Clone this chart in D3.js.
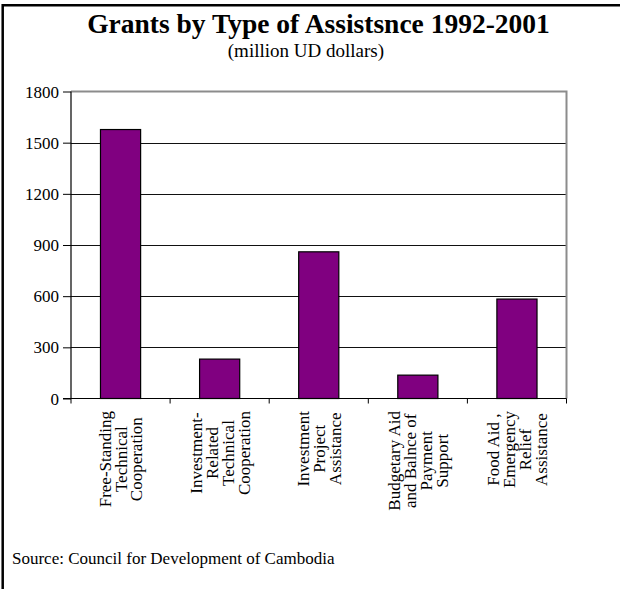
<!DOCTYPE html>
<html>
<head>
<meta charset="utf-8">
<script src="https://cdn.jsdelivr.net/npm/d3@7/dist/d3.min.js"></script>
<style>
  html, body { margin: 0; padding: 0; background: #fff; }
  svg { display: block; }
  text { font-family: "Liberation Serif", "Times New Roman", serif; fill: #000; }
</style>
</head>
<body>
<svg id="chart" width="620" height="589"></svg>
<script>
// ---- data ----
const categories = [
  "Free-Standing Technical Cooperation",
  "Investment-Related Technical Cooperation",
  "Investment Project Assistance",
  "Budgetary Aid and Balnce of Payment Support",
  "Food Aid , Emergency Relief Assistance"
];
const categoryLines = [
  ["Free-Standing", "Technical", "Cooperation"],
  ["Investment-", "Related", "Technical", "Cooperation"],
  ["Investment", "Project", "Assistance"],
  ["Budgetary Aid", "and Balnce of", "Payment", "Support"],
  ["Food Aid ,", "Emergency", "Relief", "Assistance"]
];
const grants = [1577, 231, 860, 137, 583];
const yTicks = [0, 300, 600, 900, 1200, 1500, 1800];
const titleText = "Grants by Type of Assistsnce 1992-2001";
const subtitleText = "(million UD dollars)";
const sourceText = "Source: Council for Development of Cambodia";

// ---- layout ----
const svg = d3.select("#chart");
const plot = { left: 71, right: 566.5, top: 91.5, bottom: 398.5 };

// frame border (top and left)
svg.append("path")
  .attr("d", "M2.7,589 L2.7,5.2 L620,5.2")
  .attr("fill", "none").attr("stroke", "#000").attr("stroke-width", 2.5);

const x = d3.scaleBand().domain(categories).range([plot.left, plot.right]).padding(0);
const y = d3.scaleLinear().domain([0, 1800]).range([plot.bottom, plot.top]);

// gridlines
svg.append("g").selectAll("line").data(yTicks.filter(d => d > 0 && d < 1800)).join("line")
  .attr("x1", plot.left).attr("x2", plot.right)
  .attr("y1", d => Math.round(y(d)) + 0.5).attr("y2", d => Math.round(y(d)) + 0.5)
  .attr("stroke", "#111").attr("stroke-width", 1);

// plot border top/right (gray)
svg.append("path")
  .attr("d", `M${plot.left},${plot.top} L${plot.right},${plot.top} L${plot.right},${plot.bottom}`)
  .attr("fill", "none").attr("stroke", "#8c8c8c").attr("stroke-width", 2);

// bars
const barW = x.bandwidth() * 0.405;
svg.append("g").selectAll("rect").data(categories).join("rect")
  .attr("x", d => x(d) + (x.bandwidth() - barW) / 2)
  .attr("width", barW)
  .attr("y", (d, i) => y(grants[i]))
  .attr("height", (d, i) => y(0) - y(grants[i]))
  .attr("fill", "#800080")
  .attr("stroke", "#000").attr("stroke-width", 1.2);

// y axis
const yAxis = d3.axisLeft(y).tickValues(yTicks).tickSize(8).tickPadding(4).tickFormat(d3.format("d"));
const gy = svg.append("g").attr("transform", `translate(${plot.left},0)`).call(yAxis);
gy.select(".domain").attr("stroke", "#000").attr("stroke-width", 1.2).attr("d", `M-8,${plot.bottom}H0V${plot.top}`);
gy.selectAll(".tick line").attr("stroke", "#000");
gy.selectAll(".tick text").attr("font-size", 17).attr("font-family", "Liberation Serif").attr("dy", "0.33em");

// x axis line + boundary ticks
const boundaries = categories.map(d => x(d)).concat([plot.right]);
svg.append("line").attr("x1", plot.left - 8).attr("x2", plot.right)
  .attr("y1", plot.bottom).attr("y2", plot.bottom).attr("stroke", "#000").attr("stroke-width", 1.2);
svg.append("g").selectAll("line").data(boundaries).join("line")
  .attr("x1", d => d).attr("x2", d => d)
  .attr("y1", plot.bottom).attr("y2", plot.bottom + 5)
  .attr("stroke", "#000").attr("stroke-width", 1);

// category labels (rotated, centered lines, block top at fixed y)
const lineH = 16;
const labelTop = 411;
categories.forEach((c, i) => {
  const lines = categoryLines[i];
  const g = svg.append("g")
    .attr("transform", `translate(${x(c) + x.bandwidth() / 2},${labelTop}) rotate(-90)`);
  const texts = g.selectAll("text").data(lines).join("text")
    .attr("font-size", 17)
    .attr("text-anchor", "middle")
    .attr("dy", "0.35em")
    .attr("y", (d, j) => (j - (lines.length - 1) / 2) * lineH)
    .text(d => d);
  let maxLen = 0;
  texts.each(function () { maxLen = Math.max(maxLen, this.getComputedTextLength()); });
  texts.attr("x", -maxLen / 2);
});

// title & subtitle
svg.append("text").attr("x", 318.5).attr("y", 33)
  .attr("text-anchor", "middle").attr("font-size", 27.5).attr("font-weight", "bold")
  .text(titleText);
svg.append("text").attr("x", 384).attr("y", 57)
  .attr("text-anchor", "end").attr("font-size", 19)
  .text(subtitleText);

// source
svg.append("text").attr("x", 12).attr("y", 564)
  .attr("font-size", 17)
  .text(sourceText);
</script>
</body>
</html>
